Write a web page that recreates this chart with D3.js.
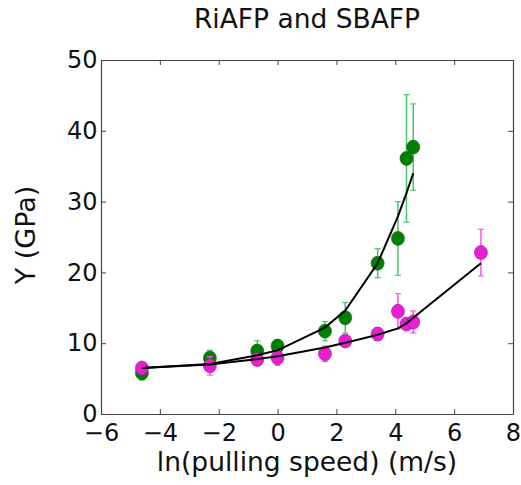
<!DOCTYPE html>
<html>
<head>
<meta charset="utf-8">
<script src="https://cdn.jsdelivr.net/npm/d3@7"></script>
<style>
  body { margin: 0; background: #fff; }
  svg { font-family: "DejaVu Sans", sans-serif; }
</style>
</head>
<body>
<svg width="521" height="485"></svg>
<script>
// ln(pulling speed) values
const speedsGreen = [-4.61, -2.30, -0.69, 0, 1.61, 2.30, 3.40, 4.09, 4.38, 4.61]
const speedsMagenta = [-4.61, -2.30, -0.69, 0, 1.61, 2.30, 3.40, 4.09, 4.38, 4.61, 6.91]

// measured Y (GPa) and error
const yGreen = [5.8, 7.9, 8.9, 9.6, 11.7, 13.6, 21.3, 24.8, 36.1, 37.7]
const errGreen = [1.0, 1.1, 1.45, 0.85, 1.35, 2.15, 2.05, 5.2, 9.0, 6.1]
const yMagenta = [6.5, 6.8, 7.7, 7.95, 8.5, 10.3, 11.3, 14.5, 12.7, 13.0, 22.8]
const errMagenta = [0.6, 1.3, 0.5, 1.1, 1.1, 0.5, 0.9, 2.5, 0.8, 1.55, 3.3]

// fitted curve values
const fitGreen = [6.5, 7.05, 8.3, 9.0, 12.2, 14.6, 21.3, 27.9, 31.2, 34.0]
const fitMagenta = [6.5, 7.0, 7.75, 8.15, 9.4, 10.05, 11.2, 12.1, 12.8, 13.6, 21.3]

const xTicks = [-6, -4, -2, 0, 2, 4, 6, 8]
const yTicks = [0, 10, 20, 30, 40, 50]

const svg = d3.select("svg")

const plotLeft = 101, plotRight = 513, plotTop = 60, plotBottom = 414

const scaleX = d3.scaleLinear().domain([-6, 8]).range([plotLeft, plotRight])
const scaleY = d3.scaleLinear().domain([0, 50]).range([plotBottom, plotTop])

const fmt = d => d < 0 ? "\u2212" + Math.abs(d) : String(d)

// axes, ticks pointing inward on all 4 sides
const axisBottom = d3.axisBottom(scaleX).tickValues(xTicks).tickSizeInner(-5).tickSizeOuter(0).tickPadding(10).tickFormat(fmt)
const axisTop = d3.axisTop(scaleX).tickValues(xTicks).tickSizeInner(-5).tickSizeOuter(0).tickFormat("")
const axisLeft = d3.axisLeft(scaleY).tickValues(yTicks).tickSizeInner(-5).tickSizeOuter(0).tickPadding(3.5)
const axisRight = d3.axisRight(scaleY).tickValues(yTicks).tickSizeInner(-5).tickSizeOuter(0).tickFormat("")

svg.append("g").attr("transform", `translate(0,${plotBottom})`).call(axisBottom)
svg.append("g").attr("transform", `translate(0,${plotTop})`).call(axisTop)
svg.append("g").attr("transform", `translate(${plotLeft},0)`).call(axisLeft)
svg.append("g").attr("transform", `translate(${plotRight},0)`).call(axisRight)

svg.selectAll(".domain").attr("stroke", "#444").attr("stroke-width", 1.2)
svg.selectAll(".tick line").attr("stroke", "#444")
svg.selectAll(".tick text").attr("font-size", 24).attr("fill", "#111")
  .attr("font-family", "DejaVu Sans, sans-serif")

// one series: error bars with caps
const drawSeries = function (xs, ys, errs, fit, barColor, dotColor, edgeColor) {
  const g = svg.append("g")
  const pts = xs.map((x, i) => ({ x: x, y: ys[i], e: errs[i] }))

  g.selectAll("line.bar").data(pts).enter().append("line")
    .attr("x1", d => scaleX(d.x)).attr("x2", d => scaleX(d.x))
    .attr("y1", d => scaleY(d.y - d.e)).attr("y2", d => scaleY(d.y + d.e))
    .attr("stroke", barColor).attr("stroke-width", 1.5)

  // caps
  ;[-1, 1].forEach(s => {
    g.selectAll("line.cap" + s).data(pts).enter().append("line")
      .attr("x1", d => scaleX(d.x) - 3).attr("x2", d => scaleX(d.x) + 3)
      .attr("y1", d => scaleY(d.y + s * d.e)).attr("y2", d => scaleY(d.y + s * d.e))
      .attr("stroke", barColor).attr("stroke-width", 1.2)
  })

  return { g: g, pts: pts, fit: fit, xs: xs, dotColor: dotColor, edgeColor: edgeColor }
}

const green = drawSeries(speedsGreen, yGreen, errGreen, fitGreen, "#4cc46c", "#008000", "#0a5a0a")
const magenta = drawSeries(speedsMagenta, yMagenta, errMagenta, fitMagenta, "#ff55e0", "#e81ed2", "#a0109a")

const line = d3.line().x(d => scaleX(d[0])).y(d => scaleY(d[1]))

;[magenta, green].forEach(s => {
  s.g.selectAll("ellipse").data(s.pts).enter().append("ellipse")
    .attr("cx", d => scaleX(d.x)).attr("cy", d => scaleY(d.y))
    .attr("rx", 6.5).attr("ry", 7)
    .attr("fill", s.dotColor).attr("stroke", s.edgeColor).attr("stroke-width", 0.6)
})

;[green, magenta].forEach(s => {
  svg.append("path")
    .datum(s.xs.map((x, i) => [x, s.fit[i]]))
    .attr("d", line)
    .attr("fill", "none").attr("stroke", "#000").attr("stroke-width", 2)
})

// title + labels
svg.append("text").attr("x", (plotLeft + plotRight) / 2).attr("y", 28)
  .attr("text-anchor", "middle").attr("font-size", 26.5).attr("fill", "#111")
  .text("RiAFP and SBAFP")

svg.append("text").attr("x", (plotLeft + plotRight) / 2).attr("y", 471)
  .attr("text-anchor", "middle").attr("font-size", 26.5).attr("fill", "#111")
  .text("ln(pulling speed) (m/s)")

svg.append("text").attr("transform", `translate(35,235) rotate(-90)`)
  .attr("text-anchor", "middle").attr("font-size", 27).attr("fill", "#111")
  .text("Y (GPa)")
</script>
</body>
</html>
